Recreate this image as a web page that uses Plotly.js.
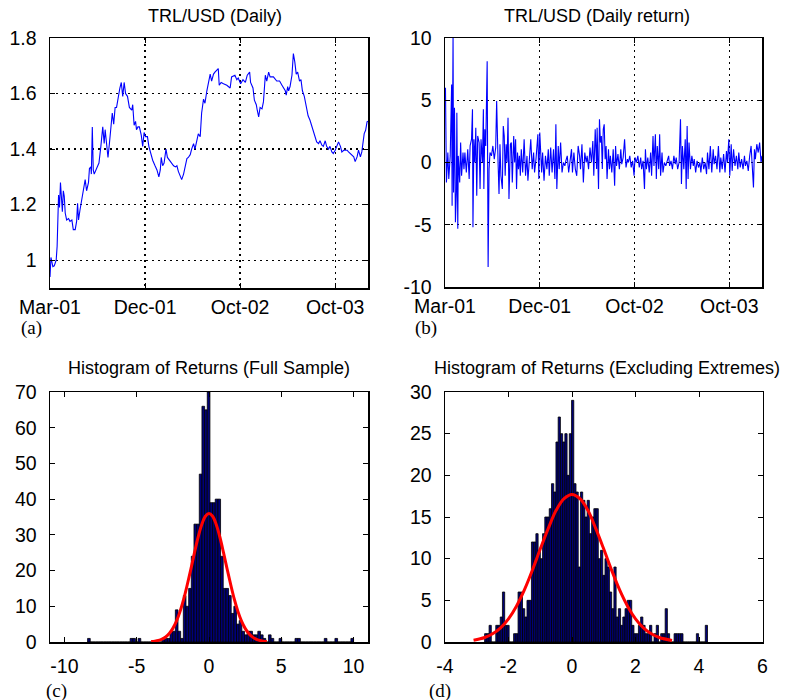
<!DOCTYPE html>
<html>
<head>
<meta charset="utf-8">
<script src="https://cdn.plot.ly/plotly-3.0.1.min.js"></script>
<style>html,body{margin:0;padding:0;background:#fff;}#chart{width:787px;height:700px;}</style>
</head>
<body>
<div id="chart"></div>
<script>
// ---------- DATA ----------
// (a) TRL/USD level, by observation index
const levelIdx = [
0,2,6,9,13,15,18,20,22,24,
26,28,30,32,35,39,42,46,49,53,
56,58,60,63,67,70,74,77,81,83,
86,87,89,91,93,98,103,107,111,114,
116,119,122,125,128,131,134,137,140,144,
147,150,153,156,159,163,167,172,174,177,
180,182,185,188,192,195,198,201,205,208,
212,216,221,225,229,232,234,237,240,244,
247,251,255,260,264,267,270,274,277,281,
284,288,291,295,298,302,305,309,312,316,
319,323,326,330,333,337,340,344,347,351,
354,356,360,365,372,379,382,389,393,396,
401,406,411,415,420,422,427,430,434,436,
439,442,446,449,453,456,460,463,470,477,
483,488,491,495,497,500,502,505,509,512,
515,518,521,525,528,531,535,539,543,547,
551,554,558,561,565,568,572,575,579,582,
586,589,593,596,600,604,607,611,614,618,
625,628,632,635,639,642,646,649,653,656,
658,661,664,667,669];
const levelVal = [
0.94,1.01,0.977,0.98,1.0,1.05,1.235,1.19,1.28,1.22,
1.175,1.25,1.23,1.17,1.145,1.15,1.14,1.145,1.11,1.11,
1.14,1.205,1.145,1.18,1.22,1.24,1.29,1.25,1.28,1.33,
1.336,1.31,1.48,1.325,1.31,1.33,1.35,1.41,1.48,1.42,
1.47,1.42,1.37,1.42,1.47,1.53,1.49,1.55,1.55,1.6,
1.62,1.64,1.59,1.64,1.6,1.59,1.55,1.54,1.56,1.486,
1.5,1.47,1.48,1.48,1.45,1.41,1.46,1.445,1.445,1.41,
1.38,1.36,1.34,1.325,1.3,1.325,1.37,1.34,1.35,1.4,
1.37,1.36,1.35,1.34,1.336,1.34,1.32,1.3,1.29,1.31,
1.336,1.366,1.37,1.38,1.4,1.42,1.4,1.43,1.455,1.445,
1.53,1.58,1.565,1.61,1.64,1.67,1.645,1.67,1.677,1.684,
1.69,1.63,1.64,1.635,1.63,1.62,1.66,1.666,1.65,1.656,
1.635,1.65,1.64,1.666,1.677,1.64,1.62,1.576,1.56,1.54,
1.516,1.55,1.545,1.57,1.666,1.645,1.677,1.66,1.66,1.645,
1.645,1.63,1.62,1.61,1.594,1.625,1.61,1.625,1.666,1.744,
1.714,1.67,1.677,1.645,1.65,1.61,1.59,1.55,1.52,1.504,
1.48,1.462,1.444,1.426,1.42,1.43,1.414,1.41,1.43,1.41,
1.4,1.41,1.39,1.384,1.396,1.41,1.426,1.41,1.39,1.396,
1.396,1.39,1.384,1.378,1.372,1.355,1.372,1.396,1.372,1.39,
1.41,1.456,1.468,1.498,1.5];

// (b) daily return (%), by observation index
const retIdx = [
1,3,6,8,11,14,15,17,18,20,
22,24,25,27,28,31,33,35,38,40,
42,45,48,51,53,56,58,59,61,63,
65,67,69,72,74,76,79,81,82,84,
86,89,91,93,95,98,101,104,107,109,
112,114,116,118,121,123,125,127,129,131,
133,135,138,140,142,145,147,149,151,153,
155,157,159,161,164,167,170,173,175,178,
181,184,187,189,192,196,198,200,202,204,
206,209,212,215,218,220,223,226,229,232,
234,236,239,241,244,247,250,253,255,258,
261,264,267,269,272,275,278,281,284,286,
289,292,295,298,300,303,306,309,312,314,
317,320,321,324,326,328,330,332,334,336,
338,340,342,345,347,349,352,355,358,360,
362,365,368,371,373,376,379,382,385,387,
390,393,396,399,401,404,407,410,413,415,
418,421,423,425,428,431,434,436,439,441,
444,446,448,451,453,455,458,460,463,466,
469,472,474,477,480,483,486,488,491,494,
497,499,501,504,507,509,511,513,515,518,
521,524,526,529,532,535,538,540,543,546,
549,552,554,557,560,563,566,568,571,574,
577,580,582,585,588,591,594,596,599,601,
604,606,609,612,615,618,620,623,626,629,
632,634,637,640,643,646,648,651,653,655,
658,661,664,667,669];
const retVal = [
6.0,-1.6,0.8,-1.33,0.53,6.27,-3.47,10.4,-2.4,4.4,
-4.8,-2.4,4.0,-5.33,0.53,-1.6,1.6,-1.07,0.8,-0.53,
0.8,-0.8,1.07,-1.33,1.33,1.87,4.27,-5.2,1.87,0,
2.8,-2.67,2.13,1.6,-2.13,1.87,0,4.27,-2.13,2.67,
1.33,8.13,-8.4,-0.53,0.8,0.53,1.33,0.27,1.2,4.93,
0,-2.53,1.47,-1.07,-2.13,2.93,2.13,-1.07,1.47,0,
3.6,-2.93,1.47,1.6,-1.6,2.13,0,1.87,-2.13,0.8,
-0.53,0.53,-1.07,1.07,-0.8,1.87,-1.07,0.53,-1.47,0.53,
1.87,-0.53,0.8,-0.8,0.27,2.27,-1.33,2.4,0.53,-0.8,
0.8,-1.47,0.53,-0.53,1.07,-1.07,1.2,-0.8,1.07,-1.33,
3.07,-2.13,1.33,-0.53,1.6,-0.8,0,-0.27,0.13,0.53,
-0.8,0.27,1.07,-0.8,0.8,-0.53,-1.07,1.33,0.53,-0.53,
1.47,-1.6,0.8,0,0.53,-0.53,1.2,0,1.73,-1.07,
2.67,-0.53,2.8,-2.13,3.47,1.6,2.13,-0.53,2.67,3.07,
0.27,1.33,-1.33,1.07,-0.53,0.53,-0.8,1.07,-1.87,1.33,
-0.27,0.67,-0.53,1.07,-0.13,0.4,1.87,-0.4,0.27,0,
0.53,-0.4,0.13,-1.07,0.4,0,0.53,-0.4,0.4,-0.53,
0.13,-2.13,1.07,-0.53,0.4,-0.8,0.8,-1.07,2.13,-0.27,
2.27,-1.33,1.33,-0.53,2.27,-1.07,0.8,-0.8,0,-0.27,
0.27,0.53,-0.27,0.13,-0.53,0.53,-0.13,0.4,-0.53,0,
3.47,-1.73,1.33,-0.53,1.87,-2.13,2.93,-1.33,1.6,-0.53,
0.53,-0.27,0.27,-0.8,0.13,-0.4,0,-0.8,0.4,-0.53,
0,-0.93,0.8,-0.53,1.33,-0.8,1.07,-0.13,0.53,-0.53,
1.33,-0.8,0.4,-0.53,0.67,-0.8,0.93,0,1.87,-1.07,
1.47,-0.67,1.07,-0.27,0.53,-0.53,0.8,-0.4,0.27,-0.53,
0.53,-0.27,0.13,-0.67,0.53,1.33,0,-2.0,1.07,0.27,
1.47,0.8,1.6,0,0.53];

// date tick labels (observation index of each)
const dateTickIdx = [0, 200, 400, 600];
const dateTickText = ['Mar-01', 'Dec-01', 'Oct-02', 'Oct-03'];

// (c) histogram, full sample: 100 bins
const fullBinStart = -8.4, fullBinWidth = 0.184;
const fullCounts = [
1,0,0,0,0,0,0,0,0,0,
0,0,0,0,0,0,1,1,0,1,
0,0,0,0,0,0,0,0,1,1,
1,3,3,9,3,1,13,10,15,24,
33,33,47,66,65,70,39,39,40,40,
24,15,15,13,8,10,5,6,3,2,
3,3,2,2,3,2,1,0,2,1,
0,0,1,0,0,0,0,0,1,1,
0,0,0,0,0,0,0,0,0,1,
0,0,0,1,0,0,0,0,0,1];
const fullFitX = [-4,-3.75,-3.5,-3.25,-3,-2.75,-2.5,-2.25,-2,-1.75,-1.5,-1.25,-1,-0.75,-0.5,-0.25,0,
  0.25,0.5,0.75,1,1.25,1.5,1.75,2,2.25,2.5,2.75,3,3.25,3.5,3.75,4];
const fullFitY = [0.11,0.23,0.44,0.81,1.42,2.38,3.82,5.85,8.57,11.99,16.1,20.5,25.1,29.4,32.9,35.2,36,
  35.2,32.9,29.4,25.1,20.5,16.1,11.99,8.57,5.85,3.82,2.38,1.42,0.81,0.44,0.23,0.11];

// (d) histogram excluding extremes: 100 bins
const exBinStart = -2.752, exBinWidth = 0.0702;
const exCounts = [
1,1,2,0,0,2,2,3,6,2,
2,0,0,1,1,6,6,4,3,5,
5,12,12,13,11,10,13,15,15,16,
19,18,24,27,25,24,25,20,25,29,
19,18,9,18,17,15,17,13,15,16,
16,10,11,8,10,9,6,4,9,3,
4,2,3,4,5,5,2,1,1,2,
3,2,1,1,2,0,1,2,0,1,
1,4,1,0,0,1,1,1,1,0,
0,0,0,0,0,1,0,0,0,2];
const exFitX = [-3.1,-2.75,-2.5,-2.25,-2,-1.75,-1.5,-1.25,-1,-0.75,-0.5,-0.25,0,
  0.25,0.5,0.75,1,1.25,1.5,1.75,2,2.25,2.5,2.75,3.15];
const exFitY = [0.21,0.54,0.98,1.70,2.78,4.30,6.25,8.6,11.15,13.6,15.8,17.2,17.7,
  17.2,15.8,13.6,11.15,8.6,6.25,4.30,2.78,1.70,0.98,0.54,0.19];

// tick labels
const levelTicks = [1, 1.2, 1.4, 1.6, 1.8];
const levelTickText = ['1', '1.2', '1.4', '1.6', '1.8'];
const retTicks = [-10, -5, 0, 5, 10];
const retTickText = ['-10', '-5', '0', '5', '10'];
const fullXTicks = [-10, -5, 0, 5, 10];
const fullXTickText = ['-10', '-5', '0', '5', '10'];
const fullYTicks = [0, 10, 20, 30, 40, 50, 60, 70];
const exXTicks = [-4, -2, 0, 2, 4, 6];
const exXTickText = ['-4', '-2', '0', '2', '4', '6'];
const exYTicks = [0, 5, 10, 15, 20, 25, 30];

const titles = ['TRL/USD (Daily)', 'TRL/USD (Daily return)',
  'Histogram of Returns (Full Sample)', 'Histogram of Returns (Excluding Extremes)'];
const panelLetters = ['(a)', '(b)', '(c)', '(d)'];

// ---------- BUILD ----------
const W = 787, H = 700;
function binCenters(start, w, n) { const c = []; for (let k = 0; k < n; k++) c.push(start + w / 2 + k * w); return c; }
const px = v => v / W, py = v => 1 - v / H;

const sans = 'Liberation Sans, Arial, Helvetica, sans-serif';
const serif = 'Liberation Serif, Times New Roman, serif';

function axis(extra) {
  return Object.assign({
    showline: true, linecolor: '#000', linewidth: 1.5, mirror: 'allticks',
    ticks: 'inside', ticklen: 5, tickcolor: '#000', tickwidth: 1,
    zeroline: false, showgrid: false, fixedrange: true, automargin: false,
    tickfont: { family: sans, size: 19.5, color: '#000' }, ticklabelstandoff: 8
  }, extra);
}
const grid = { showgrid: true, gridcolor: '#000', gridwidth: 1.3, griddash: '2px,4px' };

const barStyle = { color: 'rgb(0,0,120)', line: { color: '#000', width: 0.8 } };
const traces = [
  { x: levelIdx, y: levelVal, type: 'scatter', mode: 'lines', line: { color: '#0000ff', width: 1.1 }, xaxis: 'x', yaxis: 'y', hoverinfo: 'skip' },
  { x: retIdx, y: retVal, type: 'scatter', mode: 'lines', line: { color: '#0000ff', width: 1.1 }, xaxis: 'x2', yaxis: 'y2', hoverinfo: 'skip' },
  { x: binCenters(fullBinStart, fullBinWidth, fullCounts.length), y: fullCounts, type: 'bar', width: fullBinWidth,
    marker: barStyle, xaxis: 'x3', yaxis: 'y3', hoverinfo: 'skip' },
  { x: fullFitX, y: fullFitY, type: 'scatter', mode: 'lines', line: { color: '#ff0000', width: 3, shape: 'spline' }, xaxis: 'x3', yaxis: 'y3', hoverinfo: 'skip' },
  { x: binCenters(exBinStart, exBinWidth, exCounts.length), y: exCounts, type: 'bar', width: exBinWidth,
    marker: barStyle, xaxis: 'x4', yaxis: 'y4', hoverinfo: 'skip' },
  { x: exFitX, y: exFitY, type: 'scatter', mode: 'lines', line: { color: '#ff0000', width: 3, shape: 'spline' }, xaxis: 'x4', yaxis: 'y4', hoverinfo: 'skip' }
];

const titlePos = [[215, 16], [597, 16], [209, 368], [607, 368]];
const letterPos = [[31, 328], [426, 328], [56, 691], [440, 691]];
const annotations = [];
titles.forEach((t, i) => annotations.push({ text: t, xref: 'paper', yref: 'paper', x: px(titlePos[i][0]), y: py(titlePos[i][1]),
  xanchor: 'center', yanchor: 'middle', showarrow: false, font: { family: sans, size: 18, color: '#000' } }));
panelLetters.forEach((t, i) => annotations.push({ text: t, xref: 'paper', yref: 'paper', x: px(letterPos[i][0]), y: py(letterPos[i][1]),
  xanchor: 'center', yanchor: 'middle', showarrow: false, font: { family: serif, size: 19, color: '#000' } }));

const layout = {
  width: W, height: H, margin: { l: 0, r: 0, t: 0, b: 0 }, paper_bgcolor: '#fff', plot_bgcolor: '#fff',
  showlegend: false, barmode: 'overlay', bargap: 0,
  xaxis: axis(Object.assign({ domain: [px(50), px(368)], range: [0, 669], tickvals: dateTickIdx, ticktext: dateTickText, anchor: 'y', ticklabelstandoff: 1 }, grid)),
  yaxis: axis(Object.assign({ domain: [py(288), py(38)], range: [0.9, 1.8], tickvals: levelTicks, ticktext: levelTickText, anchor: 'x' }, grid)),
  xaxis2: axis(Object.assign({ domain: [px(445), px(762)], range: [0, 669], tickvals: dateTickIdx, ticktext: dateTickText, anchor: 'y2', ticklabelstandoff: 1 }, grid)),
  yaxis2: axis(Object.assign({ domain: [py(287), py(38)], range: [-10, 10], tickvals: retTicks, ticktext: retTickText, anchor: 'x2' }, grid)),
  xaxis3: axis({ domain: [px(50), px(368)], range: [-11, 11], tickvals: fullXTicks, ticktext: fullXTickText, anchor: 'y3', ticklabelstandoff: 6 }),
  yaxis3: axis({ domain: [py(642), py(392)], range: [0, 70], tickvals: fullYTicks, anchor: 'x3' }),
  xaxis4: axis({ domain: [px(445), px(762.5)], range: [-4, 6], tickvals: exXTicks, ticktext: exXTickText, anchor: 'y4', ticklabelstandoff: 6 }),
  yaxis4: axis({ domain: [py(642), py(392)], range: [0, 30], tickvals: exYTicks, anchor: 'x4' }),
  annotations: annotations
};

Plotly.newPlot('chart', traces, layout, { staticPlot: true, displayModeBar: false });
</script>
</body>
</html>
